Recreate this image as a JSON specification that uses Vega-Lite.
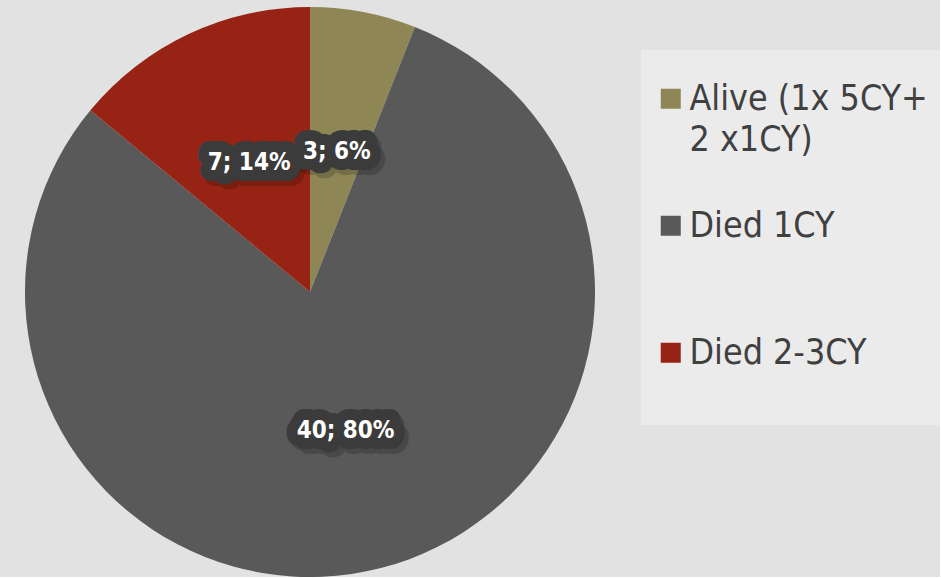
{
  "$schema": "https://vega.github.io/schema/vega-lite/v6.json",
  "width": 620,
  "height": 570,
  "padding": {"top": 7, "left": 0, "right": 0, "bottom": 0},
  "background": "#e2e2e2",
  "config": {"view": {"stroke": null}},
  "data": {
    "values": [
      {"category": "Alive (1x 5CY+ 2 x1CY)", "count": 3, "label": "3; 6%", "order": 1},
      {"category": "Died 1CY", "count": 40, "label": "40; 80%", "order": 2},
      {"category": "Died 2-3CY", "count": 7, "label": "7; 14%", "order": 3}
    ]
  },
  "encoding": {
    "theta": {"field": "count", "type": "quantitative", "stack": true},
    "order": {"field": "order", "type": "quantitative"}
  },
  "layer": [
    {
      "mark": {"type": "arc", "outerRadius": 285, "strokeWidth": 0},
      "encoding": {
        "color": {
          "field": "category",
          "type": "nominal",
          "sort": ["Alive (1x 5CY+ 2 x1CY)", "Died 1CY", "Died 2-3CY"],
          "scale": {
            "domain": ["Alive (1x 5CY+ 2 x1CY)", "Died 1CY", "Died 2-3CY"],
            "range": ["#8f8656", "#595959", "#962314"]
          },
          "legend": {
            "orient": "none",
            "legendX": 641,
            "legendY": 43,
            "title": " ",
            "titleFontSize": 10,
            "titlePadding": 9,
            "fillColor": "#ebebeb",
            "padding": 12,
            "symbolType": "square",
            "symbolSize": 400,
            "symbolStrokeWidth": 0,
            "labelFont": "DejaVu Sans Condensed",
            "labelFontSize": 35.5,
            "labelColor": "#404040",
            "labelOffset": 1,
            "labelLimit": 500,
            "rowPadding": 49,
            "labelExpr": "datum.label == 'Alive (1x 5CY+ 2 x1CY)' ? ['Alive (1x 5CY+', '2 x1CY)'] : [datum.label, ' ']",
            "encode": {"labels": {"update": {"lineHeight": {"value": 41}}}}
          }
        }
      }
    },
    {
      "mark": {
        "type": "text",
        "radius": 143,
        "dx": 4,
        "dy": 5,
        "font": "DejaVu Sans Condensed",
        "fontWeight": "bold",
        "fontSize": 24,
        "fill": "#000000",
        "stroke": "#000000",
        "strokeWidth": 22,
        "strokeJoin": "round",
        "opacity": 0.18
      },
      "encoding": {"text": {"field": "label"}}
    },
    {
      "mark": {
        "type": "text",
        "radius": 143,
        "font": "DejaVu Sans Condensed",
        "fontWeight": "bold",
        "fontSize": 24,
        "fill": "#3b3b3b",
        "stroke": "#3b3b3b",
        "strokeWidth": 22,
        "strokeJoin": "round"
      },
      "encoding": {"text": {"field": "label"}}
    },
    {
      "mark": {
        "type": "text",
        "radius": 143,
        "font": "DejaVu Sans Condensed",
        "fontWeight": "bold",
        "fontSize": 24,
        "fill": "#ffffff"
      },
      "encoding": {"text": {"field": "label"}}
    }
  ]
}
